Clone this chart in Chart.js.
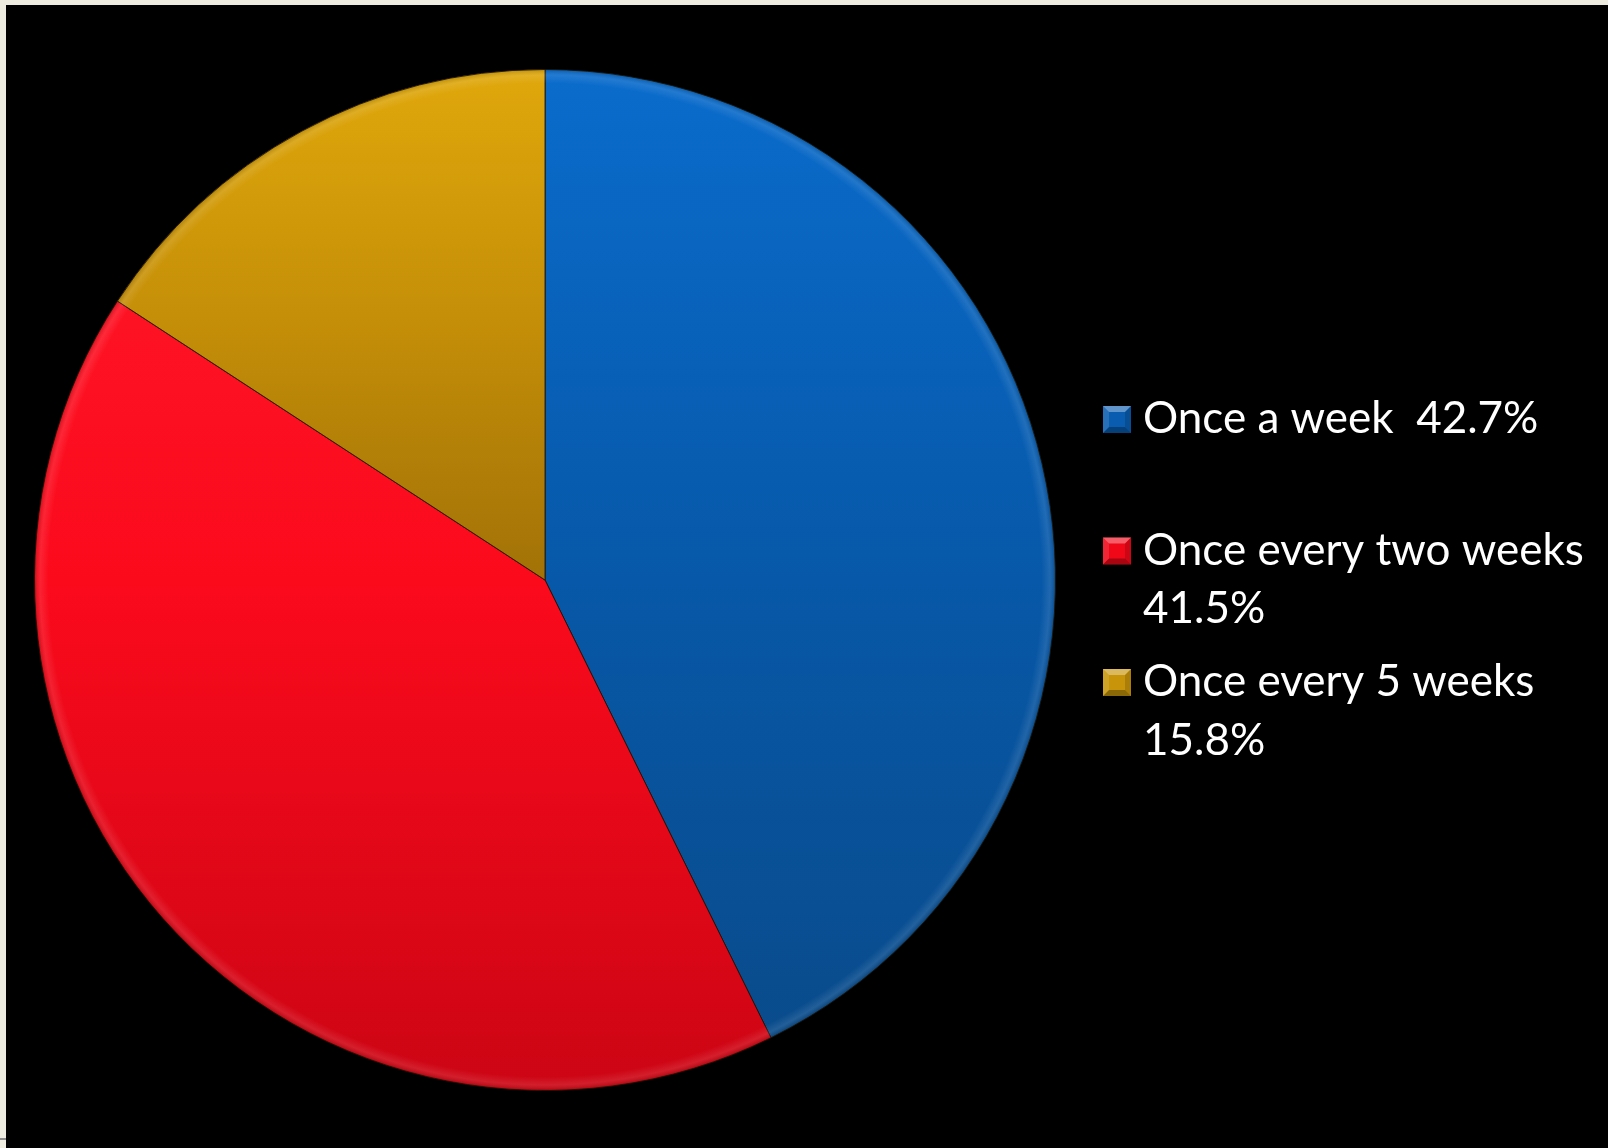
<!DOCTYPE html>
<html>
<head>
<meta charset="utf-8">
<title>Frequency</title>
<script src="https://cdn.jsdelivr.net/npm/chart.js@4.4.0/dist/chart.umd.min.js"></script>
<style>
    html, body { margin: 0; padding: 0; background: #eeebe0; overflow: hidden; }
    #frame { position: absolute; left: 6px; top: 5px; width: 1602px; height: 1143px; background: #000; }
    #tick { position: absolute; left: 0; top: 1138px; width: 6px; height: 2px; background: #8a8a8a; }
</style>
</head>
<body>
<div id="tick"></div>
<div id="frame"><canvas id="pieChart" width="1602" height="1143"></canvas></div>
<script>
const labels = ['Once a week', 'Once every two weeks', 'Once every 5 weeks'];
const shares = [42.7, 41.5, 15.8];

// vertical shading for each slice, top of the pie to the bottom
const sliceStops = [
    [[0, '#0a6ccc'], [0.5, '#0758a8'], [1, '#0a4a88']],
    [[0, '#ff1a2a'], [0.5, '#fb0a1c'], [1, '#cc0514']],
    [[0, '#e0a80b'], [0.25, '#c48e08'], [0.5, '#a27207'], [1, '#8a6006']]
];
const boxColors = ['#0a5cb0', '#f00818', '#c8950a'];

function sliceFill(context) {
    const chart = context.chart;
    const area = chart.chartArea;
    if (!area) return boxColors[context.dataIndex];
    const g = chart.ctx.createLinearGradient(0, area.top, 0, area.bottom);
    sliceStops[context.dataIndex].forEach(s => g.addColorStop(s[0], s[1]));
    return g;
}

// light rim round the outside of the pie
const rimLight = {
    id: 'rimLight',
    afterDatasetsDraw(chart) {
        const arc = chart.getDatasetMeta(0).data[0];
        if (!arc) return;
        const ctx = chart.ctx;
        const r = arc.outerRadius;
        ctx.save();
        ctx.beginPath();
        ctx.arc(arc.x, arc.y, r, 0, Math.PI * 2);
        ctx.clip();
        const g = ctx.createRadialGradient(arc.x, arc.y, r - 14, arc.x, arc.y, r);
        g.addColorStop(0, 'rgba(255,255,255,0)');
        g.addColorStop(0.6, 'rgba(255,255,255,0.10)');
        g.addColorStop(1, 'rgba(0,0,0,0.15)');
        ctx.fillStyle = g;
        ctx.fillRect(arc.x - r, arc.y - r, r * 2, r * 2);
        ctx.restore();
    }
};

function wrapText(ctx, text, maxWidth) {
    const words = text.split(' ');
    const lines = [];
    let line = '';
    words.forEach((w, i) => {
        const test = i === 0 ? w : line + ' ' + w;
        if (line.trim() && ctx.measureText(test).width > maxWidth) {
            lines.push(line.trim());
            line = w;
        } else {
            line = test;
        }
    });
    lines.push(line.trim());
    return lines;
}

function drawBox(ctx, x, y, w, h, color) {
    const d = 6;
    ctx.fillStyle = color;
    ctx.fillRect(x, y, w, h);
    const faces = [
        [[x, y], [x + w, y], [x + w - d, y + d], [x + d, y + d], 'rgba(255,255,255,0.35)'],
        [[x, y + h], [x + w, y + h], [x + w - d, y + h - d], [x + d, y + h - d], 'rgba(0,0,0,0.30)'],
        [[x, y], [x + d, y + d], [x + d, y + h - d], [x, y + h], 'rgba(255,255,255,0.12)'],
        [[x + w, y], [x + w - d, y + d], [x + w - d, y + h - d], [x + w, y + h], 'rgba(0,0,0,0.15)']
    ];
    faces.forEach(f => {
        ctx.beginPath();
        ctx.moveTo(f[0][0], f[0][1]);
        for (let k = 1; k < 4; k++) ctx.lineTo(f[k][0], f[k][1]);
        ctx.closePath();
        ctx.fillStyle = f[4];
        ctx.fill();
    });
}

// legend on the right, each entry with its share, wrapped to the free width
const sideLegend = {
    id: 'sideLegend',
    afterDraw(chart) {
        const ctx = chart.ctx;
        const values = chart.data.datasets[0].data;
        ctx.save();
        ctx.font = '44px Lato';
        ctx.textBaseline = 'alphabetic';
        chart.data.labels.forEach((label, i) => {
            const text = label + '  ' + values[i].toFixed(1) + '%';
            const lines = wrapText(ctx, text, 458);
            const base = 428 + i * 131.5;
            drawBox(ctx, 1097, base - 27, 28, 27, boxColors[i]);
            ctx.fillStyle = '#ffffff';
            lines.forEach((ln, k) => ctx.fillText(ln, 1137, base + k * 58.5));
        });
        ctx.restore();
    }
};

function createPieChart() {
    const ctx = document.getElementById('pieChart').getContext('2d');
    new Chart(ctx, {
        type: 'pie',
        data: {
            labels: labels,
            datasets: [{
                data: shares,
                backgroundColor: sliceFill,
                borderColor: 'rgba(30,20,0,0.85)',
                borderWidth: 1
            }]
        },
        options: {
            responsive: false,
            animation: false,
            layout: {
                padding: { left: 28, right: 552, top: 64, bottom: 57 }
            },
            plugins: {
                legend: { display: false },
                tooltip: { enabled: false }
            }
        },
        plugins: [rimLight, sideLegend]
    });
}

document.fonts.load('44px Lato').then(createPieChart, createPieChart);
</script>
</body>
</html>
